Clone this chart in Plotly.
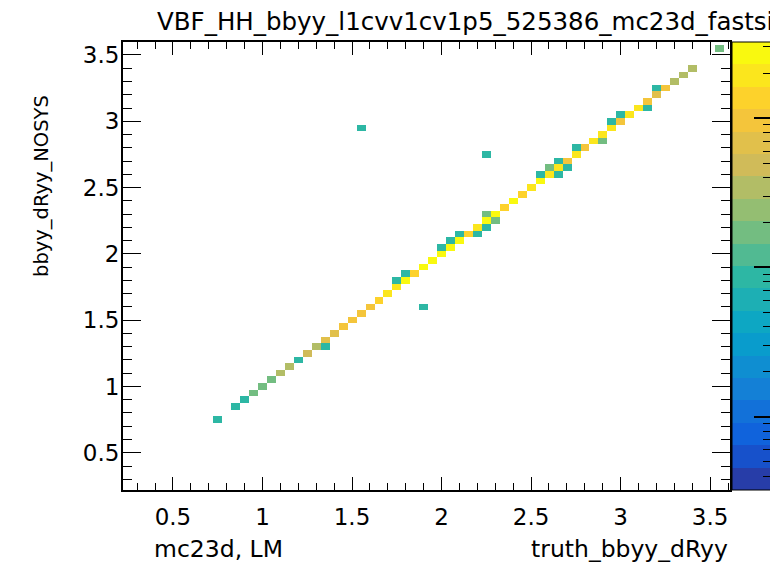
import numpy as np
import plotly.graph_objects as go

# ---------------- data (bin centres truth_x, reco_y and entries) ----------------
truth_x = [0.75, 0.85, 0.90, 0.95, 1.00, 1.05, 1.10, 1.15, 1.20, 1.25, 1.30, 1.35, 1.40,
           1.45, 1.50, 1.55, 1.60, 1.65, 1.70, 1.75, 1.80, 1.85, 1.90, 1.95, 2.00, 2.05,
           2.10, 2.15, 2.20, 2.25, 2.30, 2.35, 2.40, 2.45, 2.50, 2.55, 2.60, 2.65, 2.70,
           2.75, 2.80, 2.85, 2.90, 2.95, 3.00, 3.05, 3.10, 3.15, 3.20, 3.25, 3.30, 3.35,
           3.40,
           1.35, 1.75, 1.80, 1.90, 1.55, 2.00, 2.05, 2.10, 2.20, 2.25, 2.25, 2.30, 2.25,
           2.55, 2.60, 2.65, 2.65, 2.70, 2.75, 2.90, 2.95, 3.00, 3.15, 3.20, 3.55]
reco_y = [0.75, 0.85, 0.90, 0.95, 1.00, 1.05, 1.10, 1.15, 1.20, 1.25, 1.30, 1.35, 1.40,
          1.45, 1.50, 1.55, 1.60, 1.65, 1.70, 1.75, 1.80, 1.85, 1.90, 1.95, 2.00, 2.05,
          2.10, 2.15, 2.20, 2.25, 2.30, 2.35, 2.40, 2.45, 2.50, 2.55, 2.60, 2.65, 2.70,
          2.75, 2.80, 2.85, 2.90, 2.95, 3.00, 3.05, 3.10, 3.15, 3.20, 3.25, 3.30, 3.35,
          3.40,
          1.30, 1.80, 1.85, 1.60, 2.95, 2.05, 2.10, 2.15, 2.15, 2.20, 2.30, 2.25, 2.75,
          2.60, 2.65, 2.70, 2.60, 2.65, 2.80, 2.85, 3.00, 3.05, 3.10, 3.25, 3.55]
entries = [1, 1, 1, 2, 2, 2, 3, 3, 1, 5, 4, 6, 8,
           9, 10, 9, 11, 13, 19, 22, 24, 14, 24, 25, 26, 25,
           24, 15, 22, 26, 25, 14, 24, 13, 22, 24, 20, 18, 10,
           20, 9, 19, 17, 19, 10, 17, 18, 10, 6, 9, 3, 3,
           3,
           1, 1, 1, 1, 1, 1, 1, 1, 1, 1, 2, 2, 1,
           1, 2, 1, 1, 1, 1, 2, 1, 1, 1, 1, 2]

x_major_ticks = [0.5, 1.0, 1.5, 2.0, 2.5, 3.0, 3.5]
z_major_ticks = [0.1, 1, 10]
z_minor_ticks = [0.04, 0.05, 0.06, 0.07, 0.08, 0.09, 0.2, 0.3, 0.4, 0.5, 0.6, 0.7, 0.8,
                 0.9, 2, 3, 4, 5, 6, 7, 8, 9, 20, 30]

# ---------------- binning ----------------
bw = 0.05
edges = np.round(np.arange(0.175, 3.676, bw), 4)
nb = len(edges) - 1
grid = np.full((nb, nb), np.nan)
for xv, yv, c in zip(truth_x, reco_y, entries):
    i = int(np.floor((xv - edges[0]) / bw))
    j = int(np.floor((yv - edges[0]) / bw))
    grid[j, i] = np.log10(c)

ZMIN, ZMAX = -1.49, 1.51

# ROOT kBird palette, 20 contour bands
stops = [0.0, 0.125, 0.25, 0.375, 0.5, 0.625, 0.75, 0.875, 1.0]
red = [0.2082, 0.0592, 0.0780, 0.0232, 0.1802, 0.5301, 0.8186, 0.9956, 0.9764]
green = [0.1664, 0.3599, 0.5041, 0.6419, 0.7178, 0.7492, 0.7328, 0.7862, 0.9832]
blue = [0.5293, 0.8684, 0.8385, 0.7914, 0.6425, 0.4662, 0.3499, 0.1968, 0.0539]


def bird(f):
    r = np.interp(f, stops, red)
    g = np.interp(f, stops, green)
    b = np.interp(f, stops, blue)
    return "rgb(%d,%d,%d)" % (round(r * 255), round(g * 255), round(b * 255))


ndiv = 20
cscale = []
for k in range(ndiv):
    p = int((k + 0.99) * 255 / ndiv)
    col = bird(p / 255)
    cscale.append([k / ndiv, col])
    cscale.append([(k + 1) / ndiv, col])

PL, PR, PT, PB = 123, 730, 42, 490
W, H = 770, 569
pw, ph = PR - PL, PB - PT


def px(xp):
    return (xp - PL) / pw


def py(yp):
    return (PB - yp) / ph


fig = go.Figure()
fig.add_trace(go.Heatmap(
    x=edges, y=edges, z=grid, zmin=ZMIN, zmax=ZMAX, colorscale=cscale,
    hoverinfo="skip",
    colorbar=dict(x=px(732), xanchor="left", xpad=0, y=0.5, yanchor="middle", ypad=0,
                  len=1, lenmode="fraction", thickness=40, thicknessmode="pixels",
                  outlinewidth=1, outlinecolor="black",
                  tickmode="array", tickvals=[np.log10(v) for v in z_minor_ticks],
                  ticks="inside", ticklen=9, tickwidth=1.3, tickcolor="black",
                  showticklabels=False)))
# second (transparent) scale carrying the long decade ticks
fig.add_trace(go.Heatmap(
    x=[10.0], y=[10.0], z=[[0.0]], zmin=ZMIN, zmax=ZMAX,
    colorscale=[[0, "rgba(0,0,0,0)"], [1, "rgba(0,0,0,0)"]], hoverinfo="skip",
    colorbar=dict(x=px(732), xanchor="left", xpad=0, y=0.5, yanchor="middle", ypad=0,
                  len=1, lenmode="fraction", thickness=40, thicknessmode="pixels",
                  outlinewidth=0, bgcolor="rgba(0,0,0,0)",
                  tickmode="array", tickvals=[np.log10(v) for v in z_major_ticks],
                  ticks="inside", ticklen=18, tickwidth=1.5, tickcolor="black",
                  showticklabels=False)))

FONT = "DejaVu Sans"
fig.update_layout(
    width=W, height=H,
    margin=dict(l=PL, r=W - PR, t=PT, b=H - PB, pad=0, autoexpand=False),
    paper_bgcolor="white", plot_bgcolor="white",
    font=dict(family=FONT, color="black"),
    showlegend=False,
    xaxis=dict(range=[0.221, 3.611], tickmode="array", tickvals=x_major_ticks,
               ticktext=["0.5", "1", "1.5", "2", "2.5", "3", "3.5"],
               ticks="inside", ticklen=13, tickwidth=1.3, tickcolor="black",
               minor=dict(ticks="inside", tickmode="linear", tick0=0.2, dtick=0.1,
                          ticklen=7, tickwidth=1.2, tickcolor="black"),
               showline=True, linewidth=2, linecolor="black", mirror="ticks",
               showgrid=False, zeroline=False, automargin=False,
               tickfont=dict(size=23, family=FONT, color="black"),
               ticklabelstandoff=5),
    yaxis=dict(range=[0.219, 3.598], tickmode="array", tickvals=x_major_ticks,
               ticktext=["0.5", "1", "1.5", "2", "2.5", "3", "3.5"],
               ticks="inside", ticklen=18, tickwidth=1.3, tickcolor="black",
               minor=dict(ticks="inside", tickmode="linear", tick0=0.2, dtick=0.1,
                          ticklen=9, tickwidth=1.2, tickcolor="black"),
               showline=True, linewidth=2, linecolor="black", mirror="ticks",
               showgrid=False, zeroline=False, automargin=False,
               tickfont=dict(size=23, family=FONT, color="black"),
               ticklabelstandoff=-3),
)

fig.add_annotation(text="VBF_HH_bbyy_l1cvv1cv1p5_525386_mc23d_fastsim",
                   xref="paper", yref="paper", x=px(155), y=py(21),
                   xanchor="left", yanchor="middle", showarrow=False,
                   font=dict(size=24.5, family=FONT, color="black"))
fig.add_annotation(text="truth_bbyy_dRyy", xref="paper", yref="paper",
                   x=1.0, y=py(549), xanchor="right", yanchor="middle",
                   showarrow=False, font=dict(size=23.5, family=FONT, color="black"))
fig.add_annotation(text="mc23d, LM", xref="paper", yref="paper",
                   x=px(152), y=py(549), xanchor="left", yanchor="middle",
                   showarrow=False, font=dict(size=23.5, family=FONT, color="black"))
fig.add_annotation(text="bbyy_dRyy_NOSYS", xref="paper", yref="paper",
                   x=px(41), y=py(186), xanchor="center", yanchor="middle",
                   textangle=-90, showarrow=False,
                   font=dict(size=19.5, family=FONT, color="black"))

fig.write_html("out.html",
               config={"displayModeBar": False},
               post_script="document.body.style.margin='0px';"
                           "document.body.style.overflow='hidden';")
